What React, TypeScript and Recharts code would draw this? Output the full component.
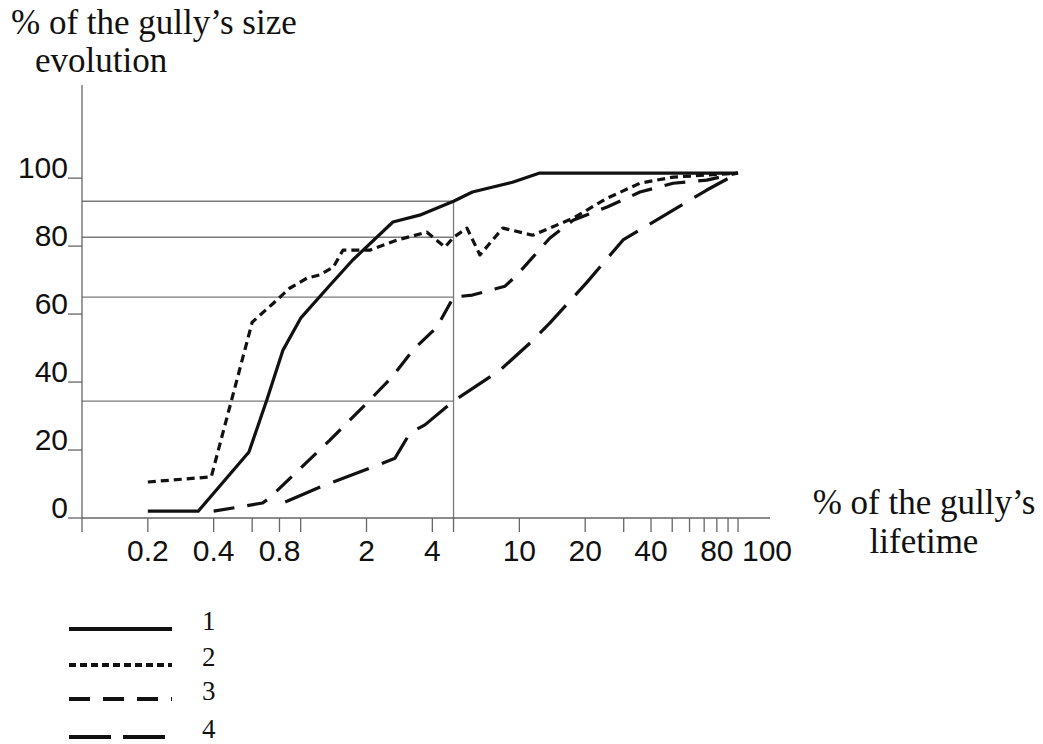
import React from "react";
import { LineChart, Line, XAxis, YAxis, ReferenceLine, Legend, Label } from "recharts";

// x: % of the gully's lifetime (log scale), y: % of the gully's size evolution
const curve1X = [0.2, 0.34, 0.58, 0.7, 0.83, 1.0, 1.36, 1.73, 2.64, 3.5, 5, 6.1, 9.3, 12.4, 100];
const curve1Y = [2, 2, 19.4, 34.7, 49.4, 58.8, 68.5, 75.9, 87.1, 89.1, 93.2, 95.9, 98.8, 101.5, 101.5];

const curve2X = [0.2, 0.39, 0.6, 0.75, 0.89, 1.07, 1.22, 1.41, 1.56, 2.07, 2.76, 3.78, 4.57, 5, 5.76, 6.6, 8.4, 11.5, 17.6, 25.2, 35.6, 50.5, 72, 100];
const curve2Y = [10.6, 12.1, 57.6, 63.2, 67.6, 70.6, 71.5, 73.8, 78.8, 78.8, 81.8, 84.1, 79.7, 82.6, 85.3, 77.4, 85.3, 83.2, 88.2, 94.1, 98.5, 100.3, 100.9, 101.5];

const curve3X = [0.4, 0.67, 0.72, 1.36, 2.07, 2.62, 3.26, 4.2, 5, 6.1, 8.6, 9.75, 13.8, 17.6, 25.2, 35.6, 50.5, 72, 100];
const curve3Y = [2, 4.4, 5.9, 22.9, 34.7, 41.5, 49.4, 56.2, 65, 65.6, 68.2, 71.5, 82.4, 87.6, 91.5, 95.9, 98.5, 99.4, 101.5];

const curve4X = [0.85, 1.26, 2.14, 2.7, 3.16, 3.7, 5, 8.16, 11.2, 13.8, 20.4, 29.8, 50.5, 72, 100];
const curve4Y = [4.7, 9.4, 15, 17.6, 25, 27.4, 34.4, 43.5, 51.5, 57.4, 69.4, 81.8, 90.6, 96.5, 101.5];

const seriesNames = ["1", "2", "3", "4"];

const xTicks = [0.1, 0.2, 0.4, 0.6, 0.8, 1, 2, 4, 5, 10, 20, 30, 40, 50, 60, 70, 80, 90, 100];
const xTickLabels = [0.2, 0.4, 0.8, 2, 4, 10, 20, 40, 80, 100];
const yTicks = [0, 20, 40, 60, 80, 100];

// guide lines: where each curve sits at 5% of the lifetime
const guideX = 5;
const guideLevels = [93.2, 82.6, 65, 34.4];

const toPoints = (xs: number[], ys: number[]) => xs.map((x, i) => ({ x, y: ys[i] }));

const series = [
  { name: seriesNames[0], data: toPoints(curve1X, curve1Y), dash: undefined, legendDash: undefined },
  { name: seriesNames[1], data: toPoints(curve2X, curve2Y), dash: "8 5", legendDash: "7 4" },
  { name: seriesNames[2], data: toPoints(curve3X, curve3Y), dash: "21 13", legendDash: "21 13" },
  { name: seriesNames[3], data: toPoints(curve4X, curve4Y), dash: "38 14", legendDash: "42 12" },
];

const INK = "#111";
const AXIS = "#666";
const GUIDE = "#7a7a7a";
const SANS = "'Liberation Sans', Arial, sans-serif";
const SERIF = "'Liberation Serif', 'Times New Roman', serif";

const XTick = ({ x, y, payload }: any) => {
  const v = payload.value;
  if (!xTickLabels.includes(v)) return <g />;
  // the "100" label sits to the right of its tick in the original
  const shift = v === 100 ? 29 : 0;
  return (
    <text x={x + shift} y={y + 27} textAnchor="middle" fontFamily={SANS} fontSize={30} fill={INK}>
      {v}
    </text>
  );
};

const YTick = ({ x, y, payload }: any) => (
  <text x={x + 2} y={y} textAnchor="end" fontFamily={SANS} fontSize={30} fill={INK}>
    {payload.value}
  </text>
);

const YTitle = () => (
  <g fontFamily={SERIF} fontSize={35} fill={INK}>
    <text x={11} y={34}>% of the gully’s size</text>
    <text x={35} y={72}>evolution</text>
  </g>
);

const XTitle = () => (
  <g fontFamily={SERIF} fontSize={35} fill={INK} textAnchor="middle">
    <text x={924} y={514}>% of the gully’s</text>
    <text x={924} y={553}>lifetime</text>
  </g>
);

const legendRowY = [29, 65, 99, 137];

const LegendBox = () => (
  <svg width={260} height={144}>
    {series.map((s, i) => (
      <g key={s.name}>
        <line
          x1={69}
          x2={172}
          y1={legendRowY[i]}
          y2={legendRowY[i]}
          stroke={INK}
          strokeWidth={4}
          strokeDasharray={s.legendDash}
        />
        <text x={202} y={legendRowY[i] + 1} fontFamily={SERIF} fontSize={27} fill={INK}>
          {s.name}
        </text>
      </g>
    ))}
  </svg>
);

export default function App() {
  return (
    <div style={{ position: "absolute", left: 0, top: 0, width: 1043, height: 744, background: "#fff" }}>
      <LineChart width={1043} height={744} margin={{ top: 85, right: 273, bottom: 166, left: 0 }}>
        <XAxis
          type="number"
          dataKey="x"
          scale="log"
          domain={[0.1, 140]}
          allowDataOverflow
          ticks={xTicks}
          interval={0}
          height={60}
          tickSize={14}
          stroke={AXIS}
          strokeWidth={1.3}
          tick={<XTick />}
        >
          <Label content={<XTitle />} />
        </XAxis>
        <YAxis
          type="number"
          dataKey="y"
          domain={[0, 127.4]}
          allowDataOverflow
          ticks={yTicks}
          interval={0}
          width={82}
          tickSize={14}
          stroke={AXIS}
          strokeWidth={1.3}
          tick={<YTick />}
        >
          <Label content={<YTitle />} />
        </YAxis>

        {guideLevels.map((v) => (
          <ReferenceLine
            key={v}
            segment={[
              { x: 0.1, y: v },
              { x: guideX, y: v },
            ]}
            stroke={GUIDE}
            strokeWidth={1.3}
          />
        ))}
        <ReferenceLine
          segment={[
            { x: guideX, y: 0 },
            { x: guideX, y: guideLevels[0] },
          ]}
          stroke={GUIDE}
          strokeWidth={1.3}
        />

        {series.map((s) => (
          <Line
            key={s.name}
            data={s.data}
            dataKey="y"
            name={s.name}
            type="linear"
            stroke={INK}
            strokeWidth={3.2}
            strokeDasharray={s.dash}
            strokeLinejoin="round"
            dot={false}
            activeDot={false}
            isAnimationActive={false}
          />
        ))}

        <Legend
          layout="vertical"
          align="center"
          verticalAlign="middle"
          content={<LegendBox />}
          wrapperStyle={{ left: 0, top: 600, width: 260, height: 144 }}
        />
      </LineChart>
    </div>
  );
}
